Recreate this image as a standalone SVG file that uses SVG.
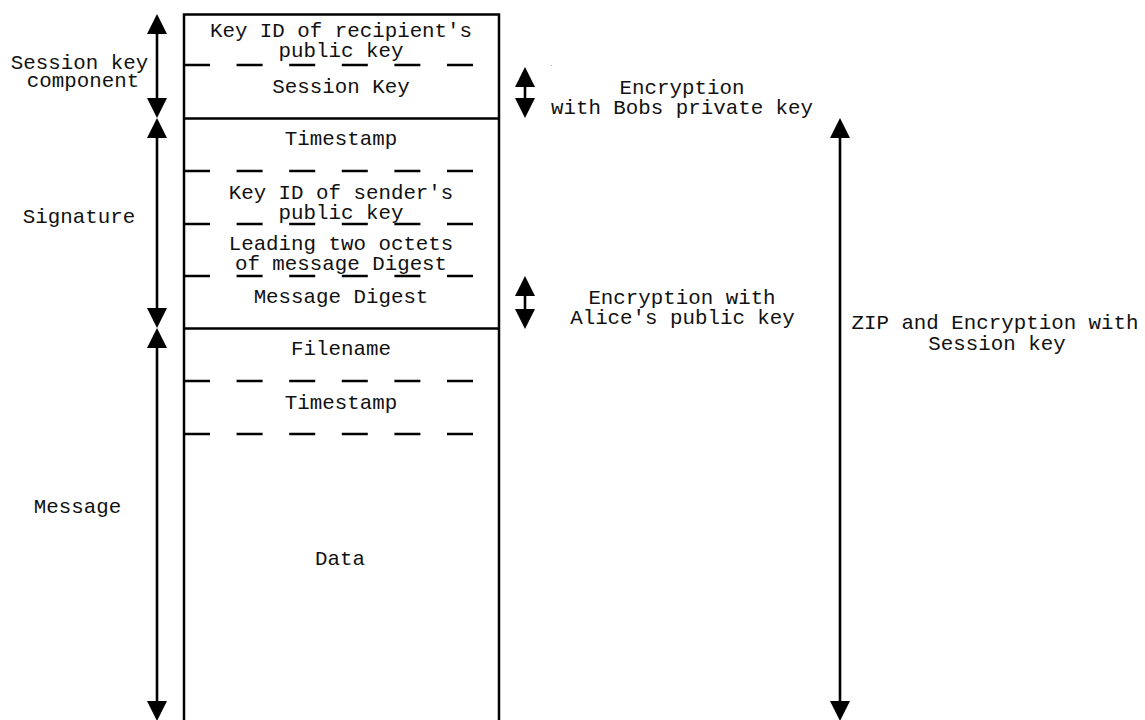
<svg xmlns="http://www.w3.org/2000/svg" width="1145" height="720" viewBox="0 0 1145 720">
<style>
text{font-family:"Liberation Mono","Courier New",monospace;font-size:20.8px;fill:#111;text-anchor:middle}
.box{fill:none;stroke:#000;stroke-width:2.5}
.dash{stroke:#000;stroke-width:2.6;stroke-dasharray:26 26.6;fill:none}
.arr{stroke:#000;stroke-width:2.6;fill:none;marker-start:url(#ah);marker-end:url(#ah)}
</style>
<defs>
<marker id="ah" viewBox="0 0 20 20" markerUnits="userSpaceOnUse" markerWidth="20" markerHeight="20" refX="15" refY="10" orient="auto-start-reverse">
<path d="M0,0 L20,10 L0,20 z" fill="#000"/>
</marker>
</defs>
<rect x="0" y="0" width="1145" height="720" fill="#fff"/>
<g id="packet">
<rect class="box" x="184" y="14.5" width="315" height="720"/>
<line class="box" x1="184" y1="118.5" x2="499" y2="118.5"/>
<line class="box" x1="184" y1="328.5" x2="499" y2="328.5"/>
</g>
<g id="session-key-component">
<line class="dash" x1="184" y1="65" x2="474" y2="65"/>
<text x="341" y="36.7">Key ID of recipient's</text>
<text x="341" y="56.7">public key</text>
<text x="341" y="93">Session Key</text>
</g>
<g id="signature">
<line class="dash" x1="184" y1="171" x2="474" y2="171"/>
<line class="dash" x1="184" y1="224" x2="474" y2="224"/>
<line class="dash" x1="184" y1="276" x2="474" y2="276"/>
<text x="341" y="145">Timestamp</text>
<text x="341" y="198.5">Key ID of sender's</text>
<text x="341" y="218.5">public key</text>
<text x="341" y="250">Leading two octets</text>
<text x="341" y="270">of message Digest</text>
<text x="341" y="302.5">Message Digest</text>
</g>
<g id="message">
<line class="dash" x1="184" y1="381" x2="474" y2="381"/>
<line class="dash" x1="184" y1="434" x2="474" y2="434"/>
<text x="341" y="355">Filename</text>
<text x="341" y="408.5">Timestamp</text>
<text x="340" y="565">Data</text>
</g>
<g id="labels">
<text x="79.5" y="68.5">Session key</text>
<text x="83" y="86.5">component</text>
<text x="79" y="222.5">Signature</text>
<text x="77.5" y="513">Message</text>
<text x="682" y="93.5">Encryption</text>
<text x="682" y="114">with Bobs private key</text>
<text x="682" y="303.5">Encryption with</text>
<text x="682.5" y="324">Alice's public key</text>
<text x="995" y="328.5">ZIP and Encryption with</text>
<text x="997" y="350">Session key</text>
<rect x="551" y="65" width="1" height="1" fill="#aaa"/>
</g>
<g id="connectors">
<line class="arr" x1="157" y1="19" x2="157" y2="113"/>
<line class="arr" x1="157" y1="123" x2="157" y2="323"/>
<line class="arr" x1="157" y1="333" x2="157" y2="716"/>
<line class="arr" x1="525" y1="72" x2="525" y2="113"/>
<line class="arr" x1="525" y1="281" x2="525" y2="324"/>
<line class="arr" x1="840" y1="123" x2="840" y2="716"/>
</g>
</svg>
